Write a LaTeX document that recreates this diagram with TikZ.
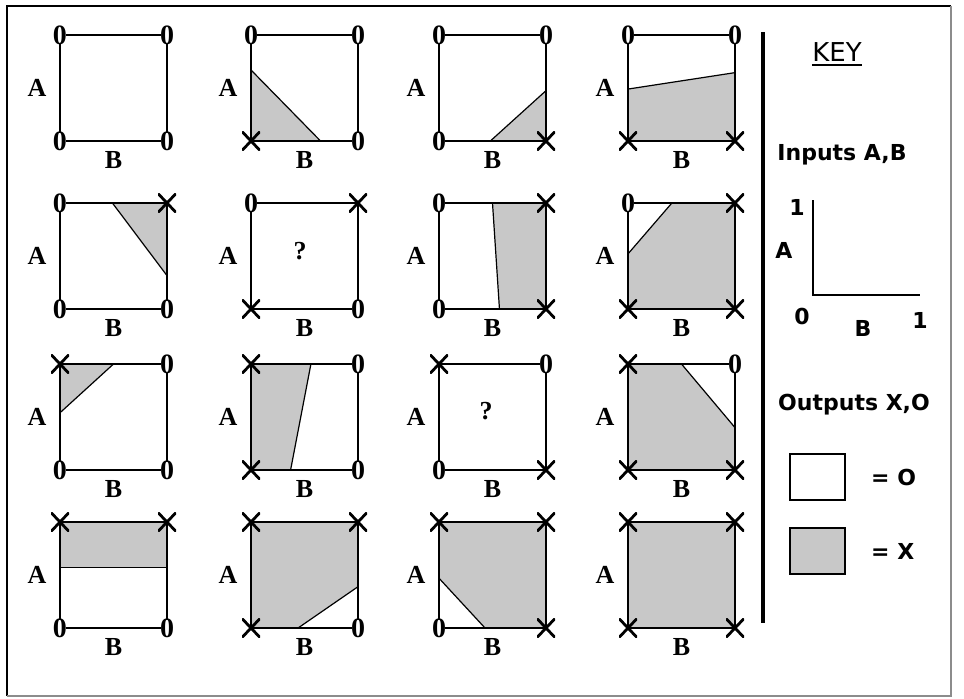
\documentclass[tikz,border=0pt]{standalone}
\usepackage{fontspec}
\usepackage{tikz}
\usetikzlibrary{positioning,calc}
\newfontfamily\serfam{Liberation Serif}
\newfontfamily\sansfam{DejaVu Sans}
\newcommand{\panelfont}{\serfam\bfseries\fontsize{13}{15}\selectfont}
\newcommand{\cornerfont}{\serfam\bfseries\fontsize{14}{16}\selectfont}
\newcommand{\keyfont}{\sansfam\bfseries\fontsize{11}{13}\selectfont}
\newcommand{\keyheadfont}{\sansfam\fontsize{13}{15}\selectfont}
\definecolor{xgray}{RGB}{200,200,200}
\tikzset{
	panelbox/.style={
		draw,
		line width=1pt
	},
	xregion/.style={
		fill=xgray,
		draw=black,
		line width=0.6pt
	},
	markO/.style={
		font=\cornerfont,
		fill=white,
		inner xsep=-0.6pt,
		inner ysep=-0.8pt
	},
	markX/.style={
		inner sep=0pt,
		minimum width=9pt,
		minimum height=9.5pt,
		path picture={
			\draw[line width=1.4pt]
			(path picture bounding box.north west) -- (path picture bounding box.south east)
			(path picture bounding box.north east) -- (path picture bounding box.south west);
		}
	},
	axislabel/.style={
		font=\panelfont,
		inner sep=0pt
	},
	keytext/.style={
		font=\keyfont,
		inner sep=0pt
	},
	keybox/.style={
		draw,
		line width=0.8pt,
		minimum width=27.5pt,
		minimum height=23pt,
		inner sep=0pt
	}
}
% corner marker: O or X
\newcommand{\cornermark}[3]{%
	\if#3O\node[markO] (#1) at (#2) {0};\else\node[markX] (#1) at (#2) {};\fi}

\begin{document}
\begin{tikzpicture}[x=0.5pt,y=-0.5pt]
	\useasboundingbox (0,0) rectangle (964,698);
	
	% --- FRAME ---
	\coordinate (fnw) at (7,6);
	\coordinate (fne) at (951,6);
	\coordinate (fsw) at (7,696);
	\coordinate (fse) at (951,696);
	\draw[line width=1.1pt] (fsw) -- (fnw) -- (fne);
	\draw[line width=1pt, black!45] (fne) -- (fse) -- (fsw);
	
	% --- PANEL ORIGINS (BOTTOM LEFT CORNERS) ---
	\foreach \c/\px in {1/60,2/251,3/439,4/628} {
		\foreach \r/\py in {1/141,2/309,3/470,4/628} {
			\coordinate (p\r\c) at (\px,\py);
		}
	}
	
	% --- X REGIONS ---
	\begin{scope}[x=53.5pt,y=53pt]
		\filldraw[xregion,shift={(p12)}] (0,0) -- (0,0.67) -- (0.65,0) -- cycle;
		\filldraw[xregion,shift={(p13)}] (0.48,0) -- (1,0) -- (1,0.475) -- cycle;
		\filldraw[xregion,shift={(p14)}] (0,0) -- (0,0.49) -- (1,0.645) -- (1,0) -- cycle;
		\filldraw[xregion,shift={(p21)}] (0.49,1) -- (1,1) -- (1,0.315) -- cycle;
		\filldraw[xregion,shift={(p23)}] (0.5,1) -- (1,1) -- (1,0) -- (0.565,0) -- cycle;
		\filldraw[xregion,shift={(p24)}] (0,0) -- (0,0.52) -- (0.41,1) -- (1,1) -- (1,0) -- cycle;
		\filldraw[xregion,shift={(p31)}] (0,1) -- (0.5,1) -- (0,0.54) -- cycle;
		\filldraw[xregion,shift={(p32)}] (0,0) -- (0,1) -- (0.56,1) -- (0.37,0) -- cycle;
		\filldraw[xregion,shift={(p34)}] (0,0) -- (0,1) -- (0.5,1) -- (1,0.4) -- (1,0) -- cycle;
		\filldraw[xregion,shift={(p41)}] (0,0.57) -- (1,0.57) -- (1,1) -- (0,1) -- cycle;
		\filldraw[xregion,shift={(p42)}] (0,0) -- (0.44,0) -- (1,0.39) -- (1,1) -- (0,1) -- cycle;
		\filldraw[xregion,shift={(p43)}] (0,0.47) -- (0,1) -- (1,1) -- (1,0) -- (0.43,0) -- cycle;
		\filldraw[xregion,shift={(p44)}] (0,0) rectangle (1,1);
	\end{scope}
	
	% --- PANELS: BOX, CORNER MARKS, A AND B ---
	\foreach \r/\c/\cnw/\cne/\csw/\cse in {
		1/1/O/O/O/O, 1/2/O/O/X/O, 1/3/O/O/O/X, 1/4/O/O/X/X,
		2/1/O/X/O/O, 2/2/O/X/X/O, 2/3/O/X/O/X, 2/4/O/X/X/X,
		3/1/X/O/O/O, 3/2/X/O/X/O, 3/3/X/O/O/X, 3/4/X/O/X/X,
		4/1/X/X/O/O, 4/2/X/X/X/O, 4/3/X/X/O/X, 4/4/X/X/X/X} {
		\begin{scope}[shift={(p\r\c)},x=53.5pt,y=53pt]
			\coordinate (nw\r\c) at (0,1);
			\coordinate (ne\r\c) at (1,1);
			\coordinate (sw\r\c) at (0,0);
			\coordinate (se\r\c) at (1,0);
			\draw[panelbox] (sw\r\c) -- (se\r\c) -- (ne\r\c) -- (nw\r\c) -- cycle;
			\cornermark{mnw\r\c}{nw\r\c}{\cnw}
			\cornermark{mne\r\c}{ne\r\c}{\cne}
			\cornermark{msw\r\c}{sw\r\c}{\csw}
			\cornermark{mse\r\c}{se\r\c}{\cse}
			\node[axislabel] (A\r\c) at (-0.215,0.5) {A};
			\node[axislabel] (B\r\c) at (0.5,-0.18) {B};
		\end{scope}
	}
	
	% --- UNKNOWN CASES ---
	\node[axislabel] (q22) at (300,251) {?};
	\node[axislabel] (q33) at (486,411) {?};
	
	% --- KEY ---
	\coordinate (divtop) at (763,32);
	\coordinate (divbot) at (763,623);
	\draw[line width=1.6pt] (divtop) -- (divbot);
	
	\node[font=\keyheadfont, inner sep=0pt] (key) at (837,52) {KEY};
	\draw[line width=1pt] ([yshift=-2pt]key.base west) -- ([yshift=-2pt]key.base east);
	
	\node[keytext] (inputs) at (842,155) {Inputs A,B};
	\coordinate (ax0) at (813,295);
	\coordinate (axA) at (813,200);
	\coordinate (axB) at (920,295);
	\draw[line width=1pt] (axA) -- (ax0) -- (axB);
	\node[keytext] (a1) at (797,207) {1};
	\node[keytext] (alab) at (784,250) {A};
	\node[keytext] (b0) at (802,316) {0};
	\node[keytext] (blab) at (863,328) {B};
	\node[keytext] (b1) at (920,320) {1};
	
	\node[keytext] (outputs) at (854,405) {Outputs X,O};
	\node[keybox] (obox) at (817.5,477) {};
	\node[keytext, right=12.5pt of obox] (oeq) {= O};
	\node[keybox, fill=xgray] (xbox) at (817.5,551) {};
	\node[keytext, right=12.5pt of xbox] (xeq) {= X};
	
\end{tikzpicture}
\end{document}
